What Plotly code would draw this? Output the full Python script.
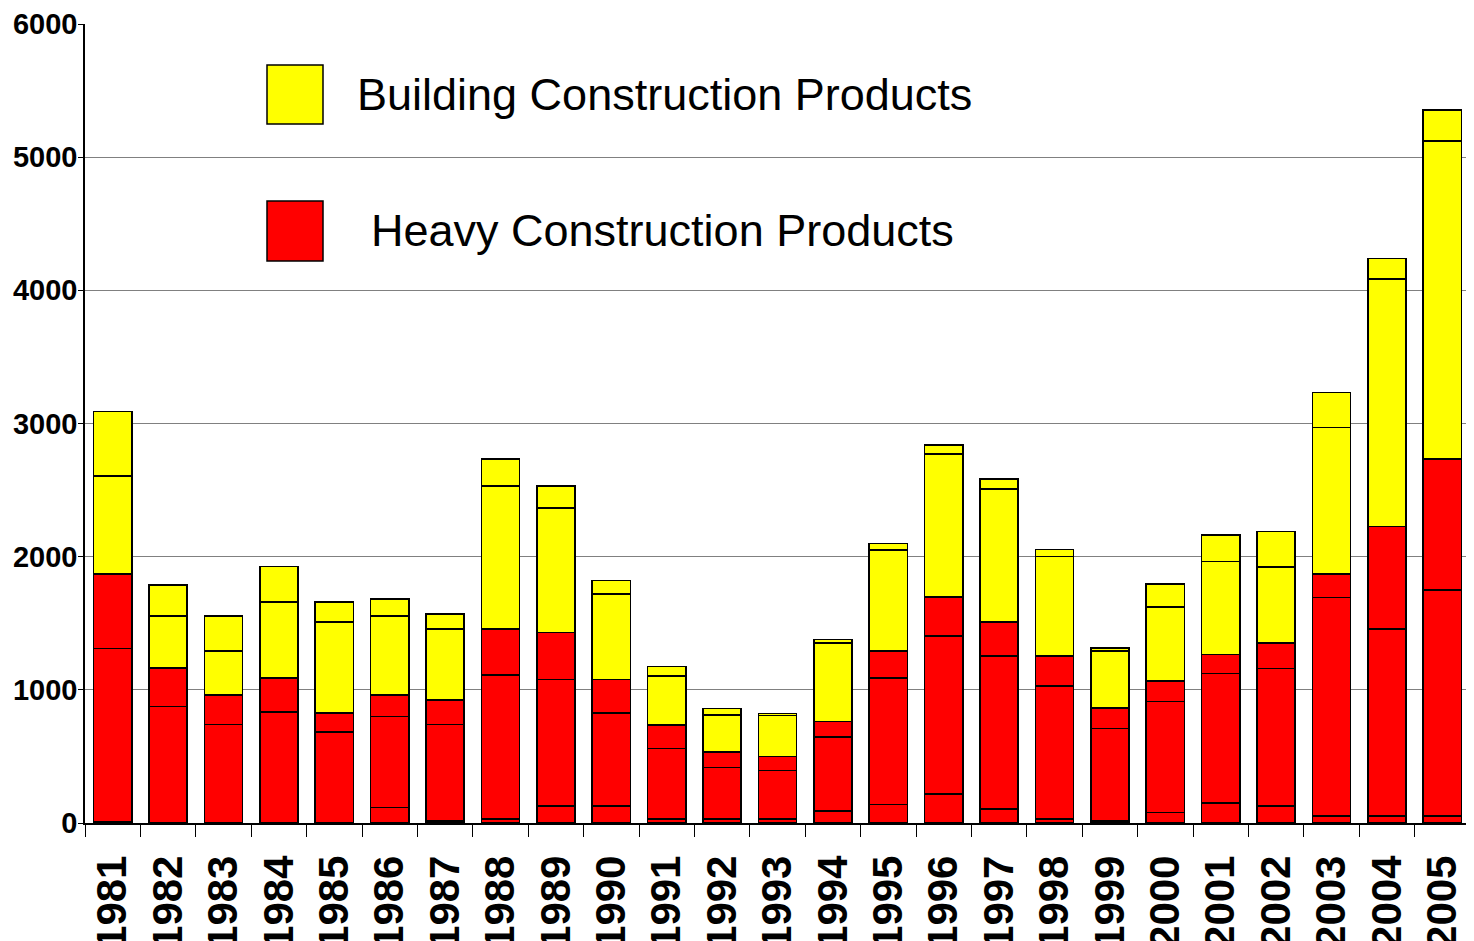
import plotly.graph_objects as go

years = [str(y) for y in range(1981, 2006)]

# heavy construction products (three red sub-series, bottom to top)
heavy_a = [10, 0, 0, 0, 0, 115, 15, 30, 128, 128, 30, 30, 30, 90, 140, 218, 105, 30, 15, 80, 150, 126, 52, 52, 52]
heavy_b = [1302, 875, 738, 833, 683, 685, 723, 1083, 948, 698, 528, 387, 363, 556, 948, 1186, 1149, 998, 693, 833, 972, 1035, 1640, 1403, 1696]
heavy_c = [558, 289, 225, 255, 143, 161, 185, 343, 355, 250, 178, 116, 105, 117, 205, 295, 255, 226, 155, 153, 144, 192, 179, 772, 986]

# building construction products (two yellow sub-series)
build_a = [735, 392, 330, 573, 683, 595, 533, 1074, 936, 645, 368, 278, 310, 588, 756, 1073, 998, 747, 430, 555, 696, 570, 1098, 1857, 2388]
build_b = [485, 231, 263, 265, 150, 126, 113, 203, 165, 100, 72, 49, 15, 27, 50, 66, 75, 51, 23, 175, 199, 266, 265, 154, 231]

RED = "#FF0000"
YELLOW = "#FFFF00"

fig = go.Figure()
for vals, col in [(heavy_a, RED), (heavy_b, RED), (heavy_c, RED),
                  (build_a, YELLOW), (build_b, YELLOW)]:
    fig.add_trace(go.Bar(x=years, y=vals, marker_color=col,
                         marker_line=dict(color="black", width=1.5),
                         showlegend=False))

# page body has an 8px margin, so the figure is sized to fit the window
fig.update_layout(
    barmode="stack",
    bargap=0.31,
    width=1466, height=933,
    margin=dict(l=77, r=4, t=16, b=118),
    plot_bgcolor="white",
    paper_bgcolor="white",
    font=dict(family="Arial, Liberation Sans", color="black"),
)

fig.update_yaxes(
    range=[0, 6000], tickvals=[0, 1000, 2000, 3000, 4000, 5000, 6000],
    showgrid=True, gridcolor="#808080", gridwidth=1,
    showline=True, linecolor="black", linewidth=1.5, mirror="ticks",
    ticks="outside", ticklen=5, tickcolor="black", ticklabelstandoff=-5,
    tickfont=dict(size=29, family="Arial, Liberation Sans", weight="bold"),
    zeroline=False, automargin=False,
)
fig.update_xaxes(
    showline=True, linecolor="black", linewidth=1.5,
    ticks="outside", tickson="boundaries", ticklen=12, tickcolor="black",
    tickangle=-90, ticklabelstandoff=14,
    tickfont=dict(size=42, family="Arial, Liberation Sans", weight="bold"),
    automargin=False,
)

# legend drawn by hand: big swatches with text beside them
legend_items = [("Building Construction Products", YELLOW, 65, 124, 355),
                ("Heavy Construction Products", RED, 201, 261, 369)]
for label, col, y0, y1, tx in legend_items:
    fig.add_shape(type="rect", xref="paper", yref="paper",
                  x0=(267 - 85) / 1385, x1=(323 - 85) / 1385,
                  y0=(823 - y1) / 799, y1=(823 - y0) / 799,
                  fillcolor=col, line=dict(color="black", width=1.5))
    fig.add_annotation(text=label, xref="paper", yref="paper",
                       x=(tx - 85) / 1385, y=(823 - (y0 + y1) / 2) / 799,
                       xanchor="left", yanchor="middle", showarrow=False,
                       font=dict(size=45, family="Arial, Liberation Sans"))

fig.write_html("out.html")
